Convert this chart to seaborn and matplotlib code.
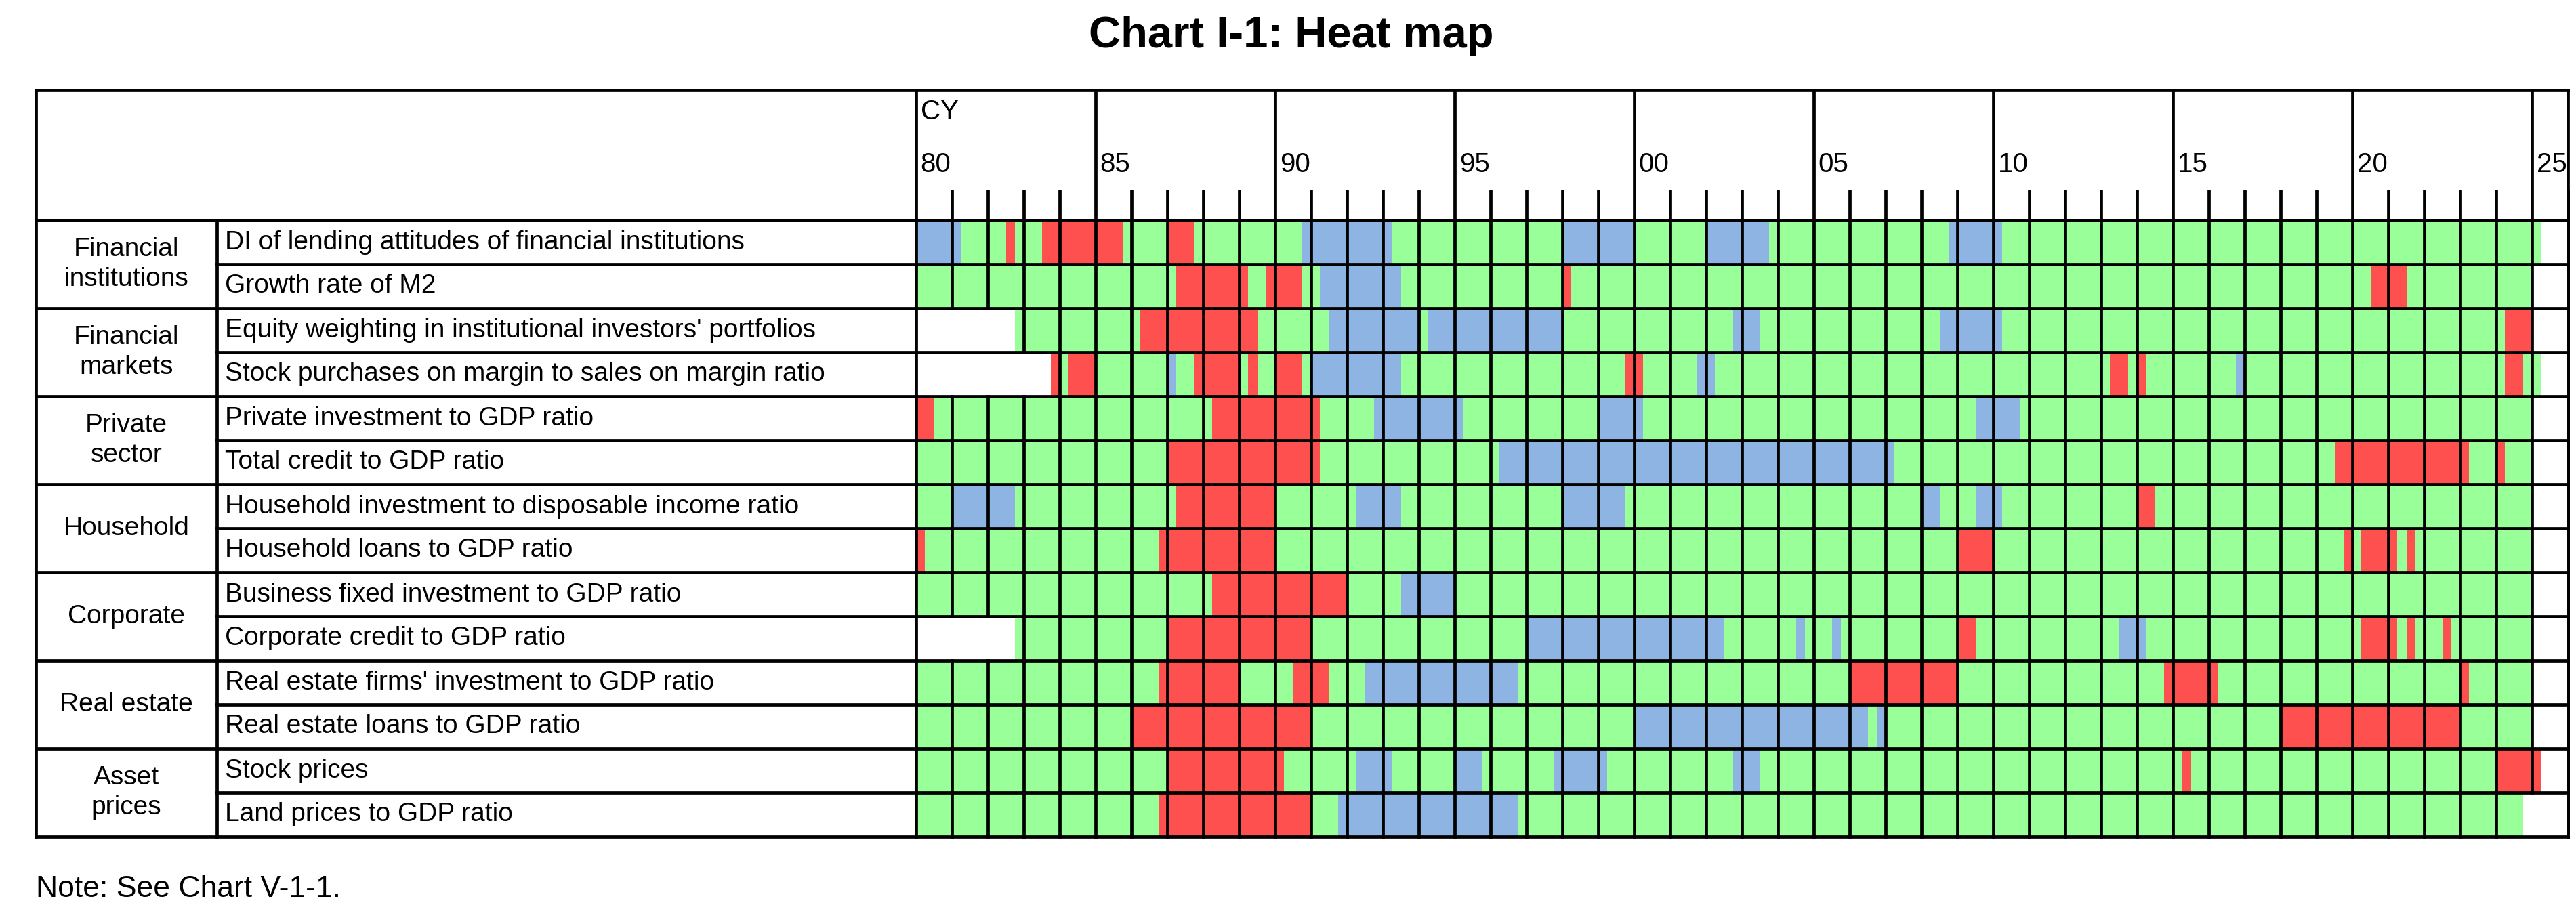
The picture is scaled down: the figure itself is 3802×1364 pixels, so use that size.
import matplotlib
matplotlib.use("Agg")
import matplotlib.pyplot as plt
from matplotlib.colors import ListedColormap
import numpy as np
import seaborn as sns

plt.rcParams["font.family"] = "Liberation Sans"

groups = ["Financial\ninstitutions", "Financial\nmarkets", "Private\nsector",
          "Household", "Corporate", "Real estate", "Asset\nprices"]
indicators = [
    "DI of lending attitudes of financial institutions",
    "Growth rate of M2",
    "Equity weighting in institutional investors' portfolios",
    "Stock purchases on margin to sales on margin ratio",
    "Private investment to GDP ratio",
    "Total credit to GDP ratio",
    "Household investment to disposable income ratio",
    "Household loans to GDP ratio",
    "Business fixed investment to GDP ratio",
    "Corporate credit to GDP ratio",
    "Real estate firms' investment to GDP ratio",
    "Real estate loans to GDP ratio",
    "Stock prices",
    "Land prices to GDP ratio",
]
year_labels = ["80", "85", "90", "95", "00", "05", "10", "15", "20", "25"]
n_quarters = 184  # 1980Q1 .. 2025Q4

# segments: (state, first quarter index, last quarter index); default = G (neutral)
# W = no data, R = overheating, B = overcooling; quarter 0 = 1980Q1
segments = [
    [("B",0,4),("R",10,10),("R",14,22),("R",28,30),("B",43,52),("B",72,79),("B",88,94),("B",115,120),("W",181,183)],
    [("R",29,36),("R",39,42),("B",45,53),("R",72,72),("R",162,165),("W",180,183)],
    [("W",0,10),("R",25,37),("B",46,55),("B",57,71),("B",91,93),("B",114,120),("R",177,179),("W",180,183)],
    [("W",0,14),("R",15,15),("R",17,19),("B",28,28),("R",31,35),("R",37,37),("R",40,42),("B",44,53),("R",79,80),
     ("B",87,88),("R",133,134),("R",136,136),("B",147,147),("R",177,178),("W",181,183)],
    [("R",0,1),("R",33,44),("B",51,60),("B",76,80),("B",118,122),("W",180,183)],
    [("R",28,44),("B",65,108),("R",158,172),("R",176,176),("W",180,183)],
    [("B",4,10),("R",29,39),("B",49,53),("B",72,78),("B",112,113),("B",118,120),("R",136,137),("W",180,183)],
    [("R",0,0),("R",27,39),("R",116,119),("R",159,159),("R",161,164),("R",166,166),("W",180,183)],
    [("R",33,47),("B",54,59),("W",180,183)],
    [("W",0,10),("R",28,43),("B",68,89),("B",98,98),("B",102,102),("R",116,117),("B",134,136),("R",161,164),
     ("R",166,166),("R",170,170),("W",180,183)],
    [("R",27,35),("R",42,45),("B",50,66),("R",104,115),("R",139,144),("R",172,172),("W",180,183)],
    [("R",24,43),("B",80,105),("B",107,107),("R",152,171),("W",180,183)],
    [("R",28,40),("B",49,52),("B",60,62),("B",71,76),("B",91,93),("R",141,141),("R",176,180),("W",181,183)],
    [("R",27,43),("B",47,66),("W",179,183)],
]

code = {"W": 0, "G": 1, "R": 2, "B": 3}
mat = np.ones((len(indicators), n_quarters))
for i, segs in enumerate(segments):
    for s, a, b in segs:
        mat[i, a:b + 1] = code[s]

W, H = 3802, 1364
fig = plt.figure(figsize=(W / 100, H / 100), dpi=100)
xl, xr, yt, yb = 1352, 3790, 325, 1235
ax = fig.add_axes([xl / W, 1 - yb / H, (xr - xl) / W, (yb - yt) / H])
cmap = ListedColormap(["#FFFFFF", "#99FF99", "#FF5050", "#8DB4E2"])
sns.heatmap(mat, cmap=cmap, vmin=-0.5, vmax=3.5, cbar=False, ax=ax,
            xticklabels=False, yticklabels=False)
ax.set_xlim(0, n_quarters)
ax.set_ylim(len(indicators), 0)
lw = 3.4
rowh = (yb - yt) / len(indicators)
head_top = -(yt - 133) / rowh
for k in range(0, 47):
    x = 4 * k
    y0 = head_top if k % 5 == 0 else -(yt - 282) / rowh
    ax.plot([x, x], [y0, 0], color="black", lw=lw, clip_on=False)
    for r in range(len(indicators)):
        left = mat[r, x - 1] if x > 0 else 1
        right = mat[r, x] if x < n_quarters else 1
        if left != 0 or right != 0:
            ax.plot([x, x], [r, r + 1], color="black", lw=lw, clip_on=False,
                    solid_capstyle="projecting")
for j, lab in enumerate(year_labels):
    ax.text(20 * j + 0.5, -(yt - 243) / rowh, lab, fontsize=29, ha="left", va="center", clip_on=False)
ax.text(0.5, -(yt - 165) / rowh, "CY", fontsize=29, ha="left", va="center", clip_on=False)
for r in range(15):
    ax.plot([0, n_quarters], [r, r], color="black", lw=lw, clip_on=False)

ov = fig.add_axes([0, 0, 1, 1], zorder=-1)
ov.set_xlim(0, W)
ov.set_ylim(H, 0)
ov.axis("off")
xg, xi = 53, 320
kw = dict(color="black", lw=lw)
ov.plot([xg, xr], [133, 133], **kw)
ov.plot([xg, xg], [133, yb], **kw)
ov.plot([xi, xi], [yt, yb], **kw)
ov.plot([xr, xr], [133, yb], **kw)
for r in range(15):
    y = yt + r * rowh
    ov.plot([xg if r % 2 == 0 else xi, xl], [y, y], **kw)
for i, lab in enumerate(indicators):
    ov.text(xi + 12, yt + (i + 0.5) * rowh, lab, fontsize=28, ha="left", va="center")
for g, lab in enumerate(groups):
    ov.text((xg + xi) / 2, yt + (2 * g + 1) * rowh, lab, fontsize=28, ha="center", va="center",
            linespacing=1.25)

fig.text(1906 / W, 1 - 53 / H, "Chart I-1: Heat map", fontsize=47, fontweight="bold",
         ha="center", va="center")
fig.text(53 / W, 1 - 1312 / H, "Note: See Chart V-1-1.", fontsize=32, ha="left", va="center")
fig.savefig("out.png", dpi=100)
